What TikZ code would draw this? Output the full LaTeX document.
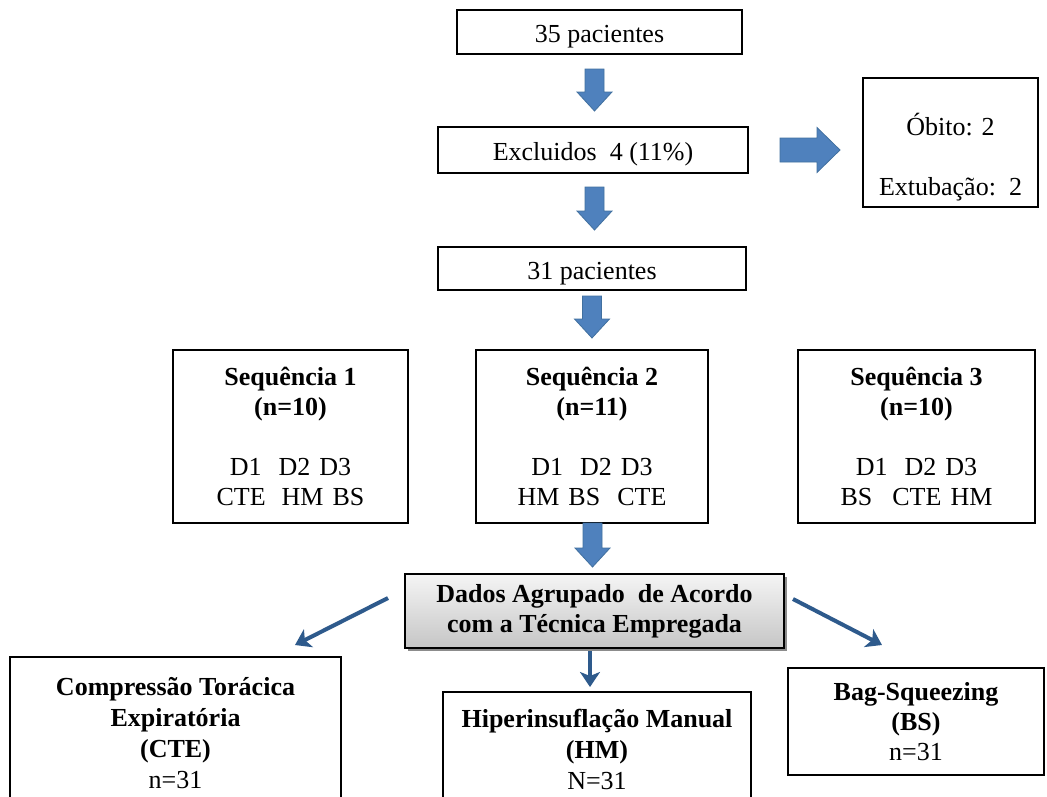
\documentclass[tikz,border=0pt]{standalone}
\usepackage{fontspec}
\setmainfont{Liberation Serif}
\usetikzlibrary{arrows.meta,shadows}
\definecolor{blockblue}{HTML}{4F81BD}
\definecolor{blockedge}{HTML}{41709F}
\definecolor{linkblue}{HTML}{2E5A8C}
\tikzset{
  box/.style={draw=black, line width=2pt, fill=white, inner sep=0pt, align=center, font=\fontsize{26}{30}\selectfont},
  oneline/.style={text height=21pt, text depth=0pt},
  txt/.style={inner sep=0pt, align=center, font=\fontsize{26}{31}\selectfont},
  barrow/.style={fill=blockblue, draw=blockedge, line width=0.8pt},
  link/.style={draw=linkblue, line width=4pt, -{Stealth[length=15pt,width=20pt,inset=4pt]}},
}
\newcommand{\blockdown}[3]{\path[barrow] ({#1-9.5},#2) -- ({#1+9.5},#2) -- ({#1+9.5},{#3-19}) -- ({#1+17.5},{#3-19}) -- (#1,#3) -- ({#1-17.5},{#3-19}) -- ({#1-9.5},{#3-19}) -- cycle;}
\begin{document}
\begin{tikzpicture}[x=1pt,y=-1pt]
\useasboundingbox (0,0) rectangle (1047,796);
\clip (0,0) rectangle (1047,796);
\fill[white] (0,0) rectangle (1047,796);

% top chain
\node[box, oneline, minimum width=285, minimum height=44] (p35) at (599.5,32) {35 pacientes};
\node[box, oneline, minimum width=310, minimum height=46] (excl) at (593,150) {Excluidos\ \ 4 (11\%)};
\node[box, oneline, minimum width=308, minimum height=43] (p31) at (592,268.5) {31 pacientes};
\node[box, minimum width=175, minimum height=129] (obito) at (950.5,142.5) {};
\node[txt, font=\fontsize{26}{30}\selectfont] (obitoT) at (950.5,157) {Óbito: 2\\[30pt]Extubação:\ \ 2};

% sequences
\node[box, minimum width=235, minimum height=173] (seq1) at (290.5,436.5)
  {\textbf{Sequência 1}\\\textbf{(n=10)}\\[30pt]D1\hspace{17pt}D2\hspace{9pt}D3\\CTE\hspace{16pt}HM\hspace{9pt}BS};
\node[box, minimum width=232, minimum height=173] (seq2) at (592,436.5)
  {\textbf{Sequência 2}\\\textbf{(n=11)}\\[30pt]D1\hspace{17pt}D2\hspace{9pt}D3\\HM\hspace{9pt}BS\hspace{17pt}CTE};
\node[box, minimum width=237, minimum height=173] (seq3) at (916.5,436.5)
  {\textbf{Sequência 3}\\\textbf{(n=10)}\\[30pt]D1\hspace{17pt}D2\hspace{9pt}D3\\BS\hspace{20pt}CTE\hspace{9pt}HM};

% grouped box
\node[box, top color=gray!8, bottom color=gray!45, drop shadow={shadow xshift=3pt, shadow yshift=-3pt, opacity=0.45, fill=black}, minimum width=379, minimum height=74] (grp) at (594.5,611)
  {\textbf{Dados Agrupado\ \ de Acordo}\\\textbf{com a Técnica Empregada}};

% bottom boxes
\node[box, minimum width=331, minimum height=173] (cte) at (175.5,743.5) {};
\node[txt] (cteT) at (175.5,733) {\textbf{Compressão Torácica}\\\textbf{Expiratória}\\\textbf{(CTE)}\\n=31};
\node[box, minimum width=308, minimum height=138] (hm) at (597,761) {};
\node[txt] (hmT) at (597,749) {\textbf{Hiperinsuflação Manual}\\\textbf{(HM)}\\N=31};
\node[box, minimum width=256, minimum height=107] (bs) at (916,721.5)
  {\textbf{Bag-Squeezing}\\\textbf{(BS)}\\n=31};

% block arrows
\blockdown{594.5}{69}{111}
\blockdown{594.5}{187}{230}
\blockdown{592}{296}{338}
\blockdown{592.5}{523}{567}
\path[barrow] (780,138) -- (817,138) -- (817,127.5) -- (840,150) -- (817,172.5) -- (817,162) -- (780,162) -- cycle;

% thin arrows
\coordinate (l1s) at (388,598);
\coordinate (l1e) at (295,645);
\coordinate (l2s) at (590,651);
\coordinate (l2e) at (590,687);
\coordinate (l3s) at (793,599);
\coordinate (l3e) at (882,645);
\draw[link] (l1s) -- (l1e);
\draw[link] (l2s) -- (l2e);
\draw[link] (l3s) -- (l3e);
\end{tikzpicture}
\end{document}
